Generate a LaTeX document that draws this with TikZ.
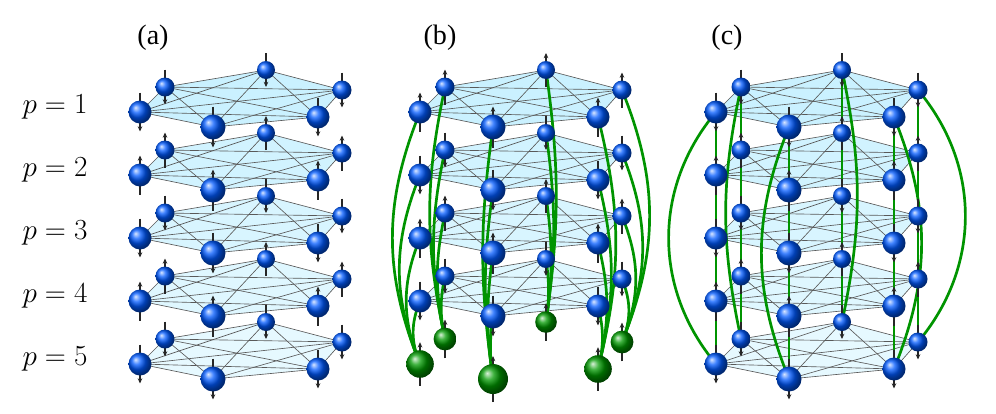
\documentclass[tikz,border=0pt]{standalone}
\usepackage{fontspec}
\setmainfont{Liberation Serif}
\usetikzlibrary{arrows.meta,calc}
\begin{document}
\begin{tikzpicture}[x=0.03cm,y=-0.03cm,
  edge/.style={draw=black!65,line width=0.55pt},
  spin/.style={-{Stealth[length=4.5pt,width=4pt]},line width=1.2pt,black!85},
  green link/.style={draw=green!58!black,line width=2.3pt},
  plab/.style={font=\fontsize{25}{30}\selectfont},
  panlab/.style={font=\fontsize{24}{28}\selectfont}]
\useasboundingbox (0,0) rectangle (996,413);
% coordinates
\foreach \pn/\px in {a/0,b/280,c/576}{
 \foreach \l in {1,...,5}{
  \pgfmathsetmacro\dy{63*(\l-1)}
  \foreach \s/\sx/\sy in {L/140/112,FL/213/127,FR/318/117,R/342/90,BR/266/70,BL/165/87}{
   \coordinate (\pn\l\s) at (\sx+\px,\sy+\dy);
  }}}
% labels
\node[panlab] (la) at (153,38) {(a)};
\node[panlab] (lb) at (440,38) {(b)};
\node[panlab] (lc) at (727,38) {(c)};
\foreach \l in {1,...,5}{
  \node[plab] (p\l) at (55,{107+63*(\l-1)}) {$p = \l$};
}
% planes
\foreach \pn/\pk in {a/1,b/2,c/3}{
 \foreach \l in {5,4,3,2,1}{
  \pgfmathtruncatemacro\fc{26-3*\l}
  \pgfmathtruncatemacro\skip{(\l==5)&&(\pk==2)}
  \ifnum\skip=0
   \fill[blue!25!cyan!\fc!white,opacity=0.9] (\pn\l L)--(\pn\l BL)--(\pn\l BR)--(\pn\l R)--(\pn\l FR)--(\pn\l FL)--cycle;
   \foreach \u/\v in {L/FL,L/FR,L/R,L/BR,L/BL,FL/FR,FL/R,FL/BR,FL/BL,FR/R,FR/BR,FR/BL,R/BR,R/BL,BR/BL}{
     \draw[edge] (\pn\l\u)--(\pn\l\v);
   }
  \fi
 }}
% green links in (b)
\foreach \s/\side/\b in {L/left/22,BL/left/12,FL/left/8,R/right/22,BR/right/8,FR/right/14}{
 \foreach \l in {1,2,3,4}{
  \draw[green link] (b5\s) to[bend \side=\b] (b\l\s);
 }}
% green links in (c)
\foreach \s/\side/\b in {L/left/40,BL/left/12,FL/left/22,R/right/40,BR/right/12,FR/right/22}{
 \foreach \l/\m in {1/2,2/3,3/4,4/5}{
  \draw[green link] (c\l\s)--(c\m\s);
 }
 \draw[green link] (c5\s) to[bend \side=\b] (c1\s);
}
% spheres and spins
\foreach \pn/\pk in {a/1,b/2,c/3}{
 \foreach \l in {5,4,3,2,1}{
  \foreach \s/\r/\i in {BR/9/1,BL/9.5/2,R/9.5/3,L/11.5/4,FR/11.5/5,FL/12.5/6}{
   \pgfmathtruncatemacro\up{mod(\l*3+\i*5+\i*\i+\pk,2)}
   \pgfmathtruncatemacro\grn{(\l==5)&&(\pk==2)}
   \pgfmathsetmacro\rr{\grn==1 ? \r*1.2 : \r}
   \ifnum\up=1
     \draw[spin] ($(\pn\l\s)+(0,\rr+8)$) -- ($(\pn\l\s)+(0,-\rr-8)$);
   \else
     \draw[spin] ($(\pn\l\s)+(0,-\rr-8)$) -- ($(\pn\l\s)+(0,\rr+8)$);
   \fi
   \ifnum\grn=1
     \shade[ball color=green!60!black] (\pn\l\s) circle[radius=\rr];
   \else
     \shade[ball color=blue!65!cyan] (\pn\l\s) circle[radius=\rr];
   \fi
  }}}
\end{tikzpicture}
\end{document}
